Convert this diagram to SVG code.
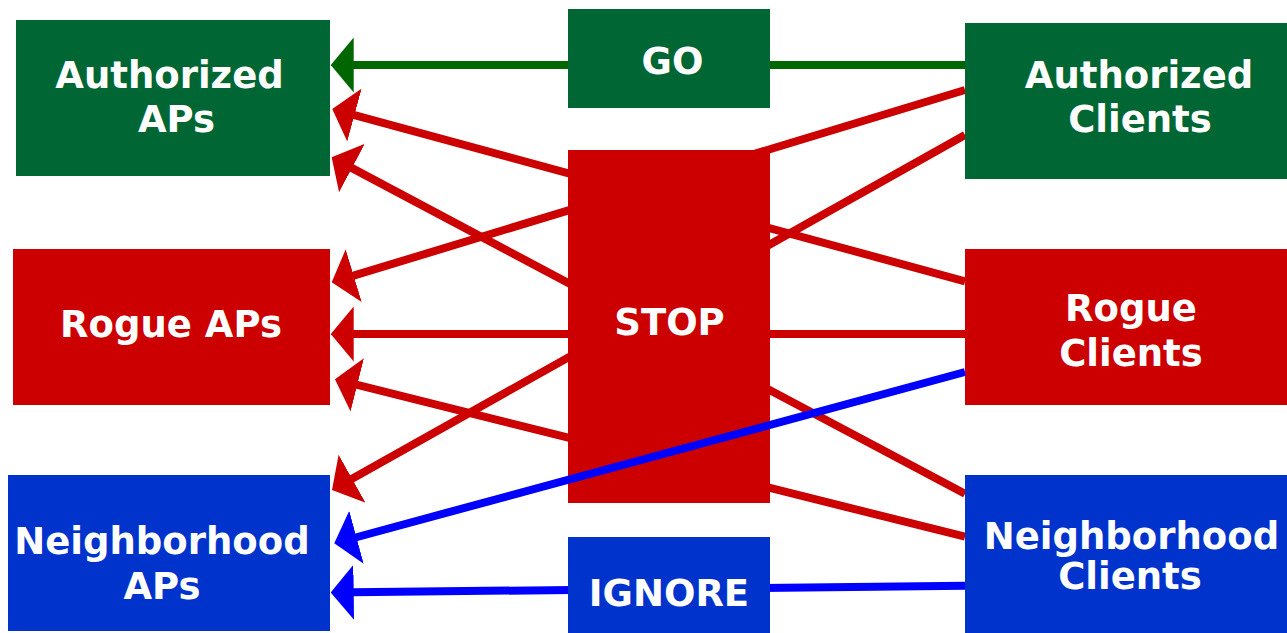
<svg xmlns="http://www.w3.org/2000/svg" width="1287" height="633" viewBox="0 0 1287 633">
  <style>
    .green { fill: #006633; }
    .red { fill: #CC0000; }
    .blue { fill: #0033CC; }
    .label { fill: #FFFFFF; font-family: "DejaVu Sans", Verdana, sans-serif; font-weight: bold; font-size: 37px; text-anchor: middle; }
    .edge { stroke-width: 8; fill: none; stroke-linecap: butt; }
    .e-green { stroke: #006600; }
    .e-red { stroke: #CC0000; }
    .e-blue { stroke: #0000FF; }
  </style>
  <defs>
    <marker id="head-green" markerUnits="userSpaceOnUse" viewBox="0 0 23 56" markerWidth="23" markerHeight="56" refX="1" refY="28" orient="auto">
      <path d="M0,0.5 L23,28 L0,55.5 Z" fill="#006600"/>
    </marker>
    <marker id="head-red" markerUnits="userSpaceOnUse" viewBox="0 0 23 56" markerWidth="23" markerHeight="56" refX="1" refY="28" orient="auto">
      <path d="M0,0.5 L23,28 L0,55.5 Z" fill="#CC0000"/>
    </marker>
    <marker id="head-blue" markerUnits="userSpaceOnUse" viewBox="0 0 23 56" markerWidth="23" markerHeight="56" refX="1" refY="28" orient="auto">
      <path d="M0,0.5 L23,28 L0,55.5 Z" fill="#0000FF"/>
    </marker>
  </defs>

  <rect width="1287" height="633" fill="#FFFFFF"/>

  <!-- connectors from client boxes to AP boxes, passing behind the action boxes -->
  <g id="connectors">
    <line class="edge e-green" x1="965" y1="65" x2="352.7" y2="65" marker-end="url(#head-green)"/>
    <line class="edge e-red" x1="965" y1="90" x2="352.75" y2="275.9" marker-end="url(#head-red)"/>
    <line class="edge e-red" x1="965" y1="135" x2="351.2" y2="479.2" marker-end="url(#head-red)"/>
    <line class="edge e-red" x1="965" y1="281.3" x2="353.5" y2="114.8" marker-end="url(#head-red)"/>
    <line class="edge e-red" x1="965" y1="334" x2="352.7" y2="334" marker-end="url(#head-red)"/>
    <line class="edge e-red" x1="965" y1="493.8" x2="351.1" y2="167.6" marker-end="url(#head-red)"/>
    <line class="edge e-red" x1="965" y1="536.7" x2="356.3" y2="384.6" marker-end="url(#head-red)"/>
    <line class="edge e-blue" x1="965" y1="585.7" x2="352.7" y2="592.3" marker-end="url(#head-blue)"/>
  </g>

  <!-- AP column -->
  <g id="authorized-aps">
    <rect class="green" x="16" y="20" width="314" height="156"/>
    <text class="label" x="169.5" y="87.5">Authorized</text>
    <text class="label" x="176.5" y="131.5">APs</text>
  </g>
  <g id="rogue-aps">
    <rect class="red" x="13" y="249" width="317" height="156"/>
    <text class="label" x="171" y="337">Rogue APs</text>
  </g>
  <g id="neighborhood-aps">
    <rect class="blue" x="8" y="475" width="322" height="156"/>
    <text class="label" x="162" y="553.5">Neighborhood</text>
    <text class="label" x="162" y="599">APs</text>
  </g>

  <!-- action column -->
  <g id="go">
    <rect class="green" x="568" y="9" width="202" height="99"/>
    <text class="label" x="672.5" y="73.5">GO</text>
  </g>
  <g id="stop">
    <rect class="red" x="568" y="150" width="202" height="353"/>
    <text class="label" x="669.5" y="335">STOP</text>
  </g>
  <g id="ignore">
    <rect class="blue" x="568" y="537" width="202" height="96"/>
    <text class="label" x="669" y="606">IGNORE</text>
  </g>

  <!-- client column -->
  <g id="authorized-clients">
    <rect class="green" x="965" y="23" width="322" height="156"/>
    <text class="label" x="1139" y="87.5">Authorized</text>
    <text class="label" x="1140" y="131.5">Clients</text>
  </g>
  <g id="rogue-clients">
    <rect class="red" x="965" y="249" width="322" height="156"/>
    <text class="label" x="1131" y="321">Rogue</text>
    <text class="label" x="1131" y="366">Clients</text>
  </g>
  <g id="neighborhood-clients">
    <rect class="blue" x="965" y="475" width="322" height="158"/>
    <text class="label" x="1131.5" y="548.5">Neighborhood</text>
    <text class="label" x="1130" y="588.5">Clients</text>
  </g>

  <!-- connector drawn across the STOP box -->
  <g id="connectors-front">
    <line class="edge e-blue" x1="965" y1="372" x2="355.5" y2="537.5" marker-end="url(#head-blue)"/>
  </g>
</svg>
